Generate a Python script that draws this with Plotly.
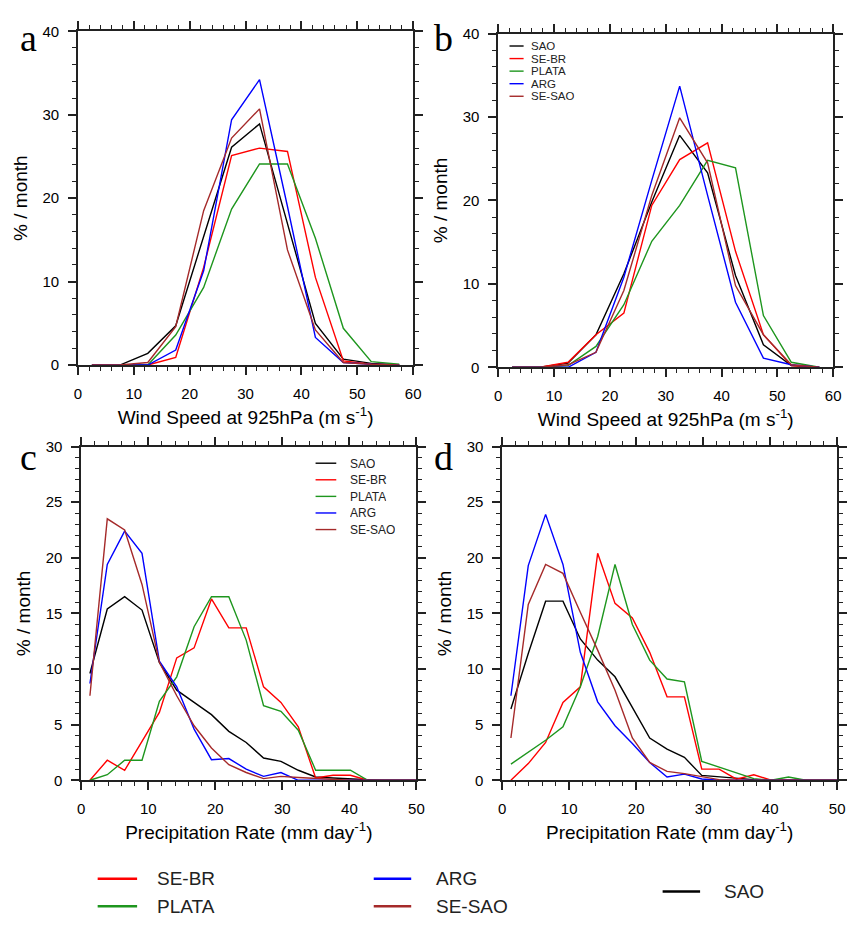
import plotly.graph_objects as go

W, H = 855, 926

names = ["SAO", "SE-BR", "PLATA", "ARG", "SE-SAO"]
colors = ["#000000", "#ff0000", "#1e961e", "#0000ff", "#a52a2a"]

# bin centres
wind_x = [2.5, 7.5, 12.5, 17.5, 22.5, 27.5, 32.5, 37.5, 42.5, 47.5, 52.5, 57.5]
precip_x = [1.3, 3.89, 6.48, 9.07, 11.66, 14.25, 16.84, 19.43, 22.02, 24.61,
            27.2, 29.79, 32.38, 34.97, 37.56, 40.15, 42.74, 45.33, 47.92, 50.51]

# panel a : wind speed
sao_a = [0, 0, 1.4, 4.7, 15.4, 26.1, 28.9, 17.0, 5.0, 0.7, 0.2, 0]
sebr_a = [0, 0, 0, 0.9, 11.7, 25.1, 26.0, 25.6, 10.5, 0.5, 0.1, 0]
plata_a = [0, 0, 0, 3.6, 9.3, 18.7, 24.1, 24.1, 15.2, 4.4, 0.4, 0.1]
arg_a = [0, 0, 0, 1.8, 11.3, 29.4, 34.2, 19.0, 3.3, 0.3, 0.1, 0]
sesao_a = [0, 0, 0.3, 4.6, 18.5, 27.2, 30.7, 13.8, 4.2, 0.3, 0.1, 0]

# panel b : wind speed
sao_b = [0, 0, 0.5, 3.9, 11.2, 19.8, 27.8, 23.3, 11.0, 2.7, 0.2, 0]
sebr_b = [0, 0, 0.6, 3.9, 6.5, 19.4, 24.9, 26.9, 13.9, 3.9, 0.2, 0]
plata_b = [0, 0, 0.2, 2.5, 7.5, 15.1, 19.4, 24.8, 23.9, 6.2, 0.6, 0]
arg_b = [0, 0, 0, 1.8, 10.8, 22.4, 33.7, 20.6, 7.8, 1.1, 0.3, 0]
sesao_b = [0, 0, 0.3, 1.8, 9.2, 20.6, 29.9, 24.5, 9.8, 3.9, 0.3, 0]

# panel c : precipitation
sao_c = [9.6, 15.4, 16.5, 15.3, 10.6, 8.1, 7.0, 5.9, 4.4, 3.4, 2.0, 1.7, 0.9, 0.3, 0.2, 0.1, 0.05, 0, 0, 0]
sebr_c = [0, 1.8, 0.9, 3.5, 6.1, 11.0, 11.9, 16.3, 13.7, 13.7, 8.4, 7.0, 4.8, 0.2, 0.45, 0.45, 0, 0, 0, 0]
plata_c = [0, 0.5, 1.8, 1.8, 7.1, 9.3, 13.8, 16.5, 16.5, 12.6, 6.7, 6.2, 4.5, 0.9, 0.9, 0.9, 0, 0, 0, 0]
arg_c = [8.7, 19.4, 22.4, 20.4, 10.7, 8.4, 4.6, 1.85, 1.95, 1.0, 0.35, 0.7, 0, 0, 0, 0, 0, 0, 0, 0]
sesao_c = [7.6, 23.5, 22.5, 17.6, 10.6, 7.6, 4.9, 2.9, 1.4, 0.7, 0.15, 0.35, 0.25, 0.15, 0.05, 0, 0, 0, 0, 0]

# panel d : precipitation
sao_d = [6.4, 11.4, 16.1, 16.1, 12.7, 10.8, 9.3, 6.5, 3.8, 2.8, 2.06, 0.44, 0.3, 0.18, 0.06, 0, 0, 0, 0, 0]
sebr_d = [0, 1.5, 3.4, 7.0, 8.4, 20.4, 15.9, 14.6, 11.5, 7.5, 7.5, 1.0, 1.0, 0.1, 0.5, 0, 0, 0, 0, 0]
plata_d = [1.45, 2.5, 3.6, 4.8, 8.4, 12.9, 19.4, 14.0, 10.8, 9.1, 8.85, 1.7, 1.2, 0.7, 0.15, 0, 0.3, 0, 0, 0]
arg_d = [7.6, 19.3, 23.9, 19.4, 11.5, 7.05, 4.9, 3.3, 1.6, 0.3, 0.55, 0.12, 0, 0, 0, 0, 0, 0, 0, 0]
sesao_d = [3.8, 15.8, 19.4, 18.6, 15.1, 11.7, 8.1, 3.8, 1.6, 0.8, 0.6, 0.35, 0.06, 0, 0, 0, 0, 0, 0, 0]

panel_letters = ["a", "b", "c", "d"]
wind_title = "Wind Speed at 925hPa (m s<sup>-1</sup>)"
precip_title = "Precipitation Rate (mm day<sup>-1</sup>)"
y_title = "% / month"

panels = [
    dict(x=wind_x, series=[sao_a, sebr_a, plata_a, arg_a, sesao_a],
         box=(75, 415, 22.7, 362.7), xr=[0, 60], yr=[0, 40], ydt=10, ymin=2, xtitle=wind_title),
    dict(x=wind_x, series=[sao_b, sebr_b, plata_b, arg_b, sesao_b],
         box=(501.3, 841, 25, 365), xr=[0, 60], yr=[0, 40], ydt=10, ymin=2, xtitle=wind_title),
    dict(x=precip_x, series=[sao_c, sebr_c, plata_c, arg_c, sesao_c],
         box=(78.3, 418.3, 445.7, 785.7), xr=[0, 50], yr=[0, 30], ydt=5, ymin=1, xtitle=precip_title),
    dict(x=precip_x, series=[sao_d, sebr_d, plata_d, arg_d, sesao_d],
         box=(505.3, 845, 445.7, 785.7), xr=[0, 50], yr=[0, 30], ydt=5, ymin=1, xtitle=precip_title),
]

FONT = "Liberation Sans, Arial, Helvetica, sans-serif"
AXC = "#222222"

fig = go.Figure()
layout = {}
for k, p in enumerate(panels):
    sfx = "" if k == 0 else str(k + 1)
    for name, col, ys in zip(names, colors, p["series"]):
        fig.add_trace(go.Scatter(x=p["x"], y=ys, mode="lines", name=name,
                                 line=dict(color=col, width=1.4),
                                 xaxis="x" + sfx, yaxis="y" + sfx, showlegend=False))
    x0, x1, yt, yb = p["box"]
    common = dict(showline=True, linecolor=AXC, linewidth=1.6, mirror="allticks",
                  ticks="outside", ticklen=8, tickwidth=1.5, tickcolor=AXC,
                  showgrid=False, zeroline=False,
                  tickfont=dict(family=FONT, size=15, color="black"))
    layout["xaxis" + sfx] = dict(
        common, domain=[x0 / W, x1 / W], range=p["xr"], dtick=10, tick0=0,
        anchor="y" + sfx, ticklabelstandoff=6,
        minor=dict(ticks="outside", ticklen=4, tickwidth=1, tickcolor=AXC, dtick=2, showgrid=False),
        title=dict(text=p["xtitle"], font=dict(family=FONT, size=19, color="black"), standoff=10))
    layout["yaxis" + sfx] = dict(
        common, domain=[1 - yb / H, 1 - yt / H], range=p["yr"], dtick=p["ydt"], tick0=0,
        anchor="x" + sfx, ticklabelstandoff=6,
        minor=dict(ticks="outside", ticklen=4, tickwidth=1, tickcolor=AXC, dtick=p["ymin"], showgrid=False),
        title=dict(text=y_title, font=dict(family=FONT, size=19, color="black"), standoff=10))

annotations = []
shapes = []

# panel letters
letter_pos = [(14, 30), (434, 30), (14, 456), (434, 456)]
for lt, (lx, ly) in zip(panel_letters, letter_pos):
    annotations.append(dict(text=lt, x=lx / W, y=1 - ly / H, xref="paper", yref="paper",
                            xanchor="left", yanchor="middle", showarrow=False,
                            font=dict(family="Liberation Serif, Times New Roman, serif", size=38, color="black")))


def legend_item(name, col, lx0, lx1, tx, ty, fs, lw, box_h=None):
    shapes.append(dict(type="line", xref="paper", yref="paper",
                       x0=lx0 / W, x1=lx1 / W, y0=1 - ty / H, y1=1 - ty / H,
                       line=dict(color=col, width=lw)))
    ann = dict(text=name, x=tx / W, y=1 - ty / H, xref="paper", yref="paper",
               xanchor="left", yanchor="middle", showarrow=False,
               font=dict(family=FONT, size=fs, color="#222222"))
    if box_h is not None:
        ann.update(height=box_h, borderpad=0, valign="middle")
    annotations.append(ann)


# in-panel legend, panel b
for i, (n, c) in enumerate(zip(names, colors)):
    legend_item(n, c, 512.7, 527, 533, 37.7 + 12.8 * i, 11.5, 1.4, box_h=12)

# in-panel legend, panel c
for i, (n, c) in enumerate(zip(names, colors)):
    legend_item(n, c, 316, 337, 350, 462.7 + 16.9 * i, 12, 1.4, box_h=15)

# bottom legend
bottom_order = ["SE-BR", "PLATA", "ARG", "SE-SAO", "SAO"]
bottom_pos = [(95, 135, 153, 886), (95, 135, 153, 914), (375, 413, 436, 886),
              (375, 413, 436, 914), (668, 706, 728, 899)]
for n, (a0, a1, tx, ty) in zip(bottom_order, bottom_pos):
    legend_item(n, colors[names.index(n)], a0, a1, tx, ty, 19, 2.5)

fig.update_layout(
    width=W, height=H, margin=dict(l=0, r=0, t=0, b=0),
    paper_bgcolor="white", plot_bgcolor="white",
    showlegend=False, annotations=annotations, shapes=shapes, **layout)

fig.write_html("out.html")
